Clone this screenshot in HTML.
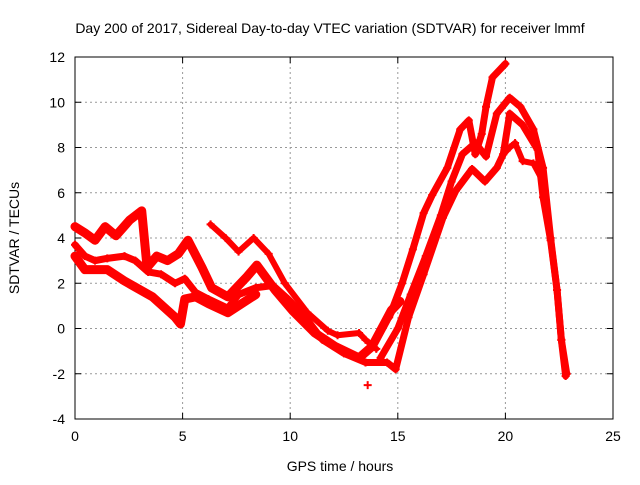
<!DOCTYPE html>
<html><head><meta charset="utf-8"><style>
body{margin:0;background:#fff;}
text{font-family:"Liberation Sans",sans-serif;font-size:14px;fill:#000;}
</style></head><body>
<svg id="chart" width="640" height="480">
<rect width="640" height="480" fill="#fff"/>
<text x="330" y="33" text-anchor="middle">Day 200 of 2017, Sidereal Day-to-day VTEC variation (SDTVAR) for receiver lmmf</text>
<g id="grid"></g><g id="axes"></g><g id="marks"></g>
<text x="340" y="471" text-anchor="middle">GPS time / hours</text>
<text transform="translate(19,238) rotate(-90)" text-anchor="middle">SDTVAR / TECUs</text>
</svg>
<script>
const xTicks=[0,5,10,15,20,25];
const yTicks=[-4,-2,0,2,4,6,8,10,12];
const sA=[[0,4.5],[0.5,4.2],[0.93,3.9],[1.4,4.5],[1.9,4.1],[2.55,4.8],[3.1,5.2],[3.35,2.7],[3.8,3.2],[4.3,3.0],[4.8,3.3],[5.25,3.9],[5.9,2.7],[6.35,1.8],[7.1,1.4],[8.0,2.3],[8.45,2.8],[9.3,1.7],[10.1,0.8],[11.15,-0.2],[12.1,-0.8],[13.2,-1.3],[13.8,-0.8],[14.7,0.8],[15.1,1.2]];
const sB=[[0,3.7],[0.46,3.2],[0.93,3.0],[1.5,3.1],[2.3,3.2],[2.8,3.0],[3.4,2.5],[4.0,2.4],[4.65,2.0],[5.1,2.2],[5.6,1.6],[6.2,1.3],[7.1,0.9],[7.6,1.5],[8.4,1.8],[9.2,1.9],[9.9,1.3],[10.7,0.5],[11.5,-0.5],[12.5,-1.1],[13.5,-1.5],[14.5,-1.5],[14.9,-1.8],[15.5,0.5],[16.2,2.4],[17.1,4.9],[17.7,6.1],[18.45,7.05],[19.05,6.5],[19.6,7.1],[19.9,7.7],[20.2,9.5],[20.8,9.0],[21.5,7.9],[21.75,5.8],[22.1,3.9],[22.4,1.7],[22.6,-0.5],[22.8,-2.1]];
const sC=[[0,3.2],[0.46,2.6],[1.5,2.6],[2.3,2.1],[3.6,1.4],[4.65,0.5],[4.9,0.2],[5.1,1.3],[5.6,1.4],[6.2,1.1],[7.1,0.7],[8.4,1.5]];
const sD=[[6.3,4.6],[7,4.0],[7.6,3.4],[8.3,4.0],[9.0,3.3],[9.75,2.0],[10.8,0.7],[11.75,-0.1],[12.2,-0.3],[13.2,-0.2],[13.5,-0.5],[14,-0.9]];
const sE=[[14.2,-1.3],[15,0],[15.6,1.5],[16.3,3.2],[17,5],[17.5,6.5],[18,7.7],[18.6,8.2],[19.1,7.6],[19.6,9.5],[20.2,10.2],[20.7,9.8],[21.3,8.8],[21.75,7.1],[22.1,4],[22.4,1.7],[22.6,-0.5],[22.85,-2]];
const sF=[[14.6,0.5],[15.2,2.0],[15.7,3.5],[16.2,5.1],[16.6,5.9],[17.3,7.1],[17.9,8.8],[18.3,9.2],[18.6,7.7],[18.9,8.6],[19.1,9.8],[19.4,11.1],[20.0,11.7]];
const sG=[[19.9,7.7],[20.2,8.0],[20.45,8.2],[20.8,7.4],[21.3,7.3],[21.75,6.5]];
const sH=[[13.6,-2.5]];
const series=[sA,sB,sC,sD,sE,sF,sG,sH];
const widths=[9,7,9,6,7,7,6,6];
const X0=75,X1=613,Y0=419,Y1=57;
const xs=v=>X0+(v-0)/(25-0)*(X1-X0);
const ys=v=>Y0-(v+4)/(12+4)*(Y0-Y1);
const NS="http://www.w3.org/2000/svg";
function mk(t,a,p){const e=document.createElementNS(NS,t);for(const k in a)e.setAttribute(k,a[k]);p.appendChild(e);return e;}
const grid=document.getElementById('grid'),axes=document.getElementById('axes'),marks=document.getElementById('marks');
xTicks.forEach(t=>{const x=xs(t);
 if(t>0&&t<25){const g=mk('line',{x1:x,x2:x,y1:Y1,y2:Y0,stroke:'#999','stroke-dasharray':'2,3'},grid);
 
 }
 mk('line',{x1:x,x2:x,y1:Y0,y2:Y0-6,stroke:'#000'},axes);mk('line',{x1:x,x2:x,y1:Y1,y2:Y1+6,stroke:'#000'},axes);
 const l=mk('text',{x:x,y:Y0+22,'text-anchor':'middle'},axes);l.textContent=t;
 
 });
yTicks.forEach(t=>{const y=ys(t);
 if(t>-4&&t<12){const g=mk('line',{x1:X0,x2:X1,y1:y,y2:y,stroke:'#999','stroke-dasharray':'2,3'},grid);
 
 }
 mk('line',{x1:X0,x2:X0+6,y1:y,y2:y,stroke:'#000'},axes);mk('line',{x1:X1,x2:X1-6,y1:y,y2:y,stroke:'#000'},axes);
 const l=mk('text',{x:X0-10,y:y+5,'text-anchor':'end'},axes);l.textContent=t;
 
 });
const fr=mk('rect',{x:X0,y:Y1,width:X1-X0,height:Y0-Y1,fill:'none',stroke:'#000'},axes);


series.forEach((s,i)=>{
 const g=mk('g',{},marks);
 
 
 if(s.length>1){mk('polyline',{points:s.map(p=>xs(p[0])+','+ys(p[1])).join(' '),fill:'none',stroke:'#f00','stroke-width':widths[i],'stroke-linejoin':'round','stroke-linecap':'round'},g);}
 s.forEach(p=>{const x=xs(p[0]),y=ys(p[1]);
  const m=mk('path',{d:`M${x-4},${y}H${x+4}M${x},${y-4}V${y+4}`,stroke:'#f00','stroke-width':2},g);
  
  });
});
</script>
</body></html>
